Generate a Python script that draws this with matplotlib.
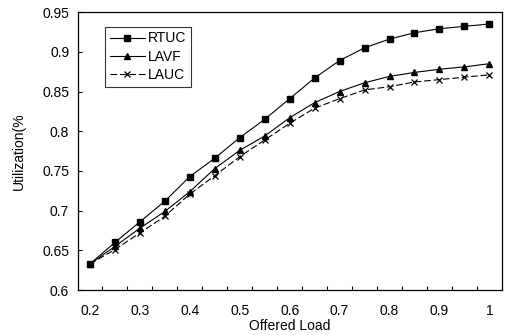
import numpy as np
import matplotlib
matplotlib.use("Agg")
import matplotlib.pyplot as plt

# Datos
carga = [0.2, 0.25, 0.3, 0.35, 0.4, 0.45, 0.5, 0.55, 0.6, 0.65, 0.7, 0.75, 0.8, 0.85, 0.9, 0.95, 1.0]
rtuc = [0.633, 0.660, 0.686, 0.712, 0.743, 0.766, 0.792, 0.815, 0.841, 0.867, 0.889, 0.905, 0.916, 0.924, 0.929, 0.932, 0.935]
lavf = [0.633, 0.655, 0.678, 0.699, 0.724, 0.753, 0.776, 0.794, 0.817, 0.836, 0.850, 0.861, 0.869, 0.874, 0.878, 0.881, 0.885]
lauc = [0.633, 0.651, 0.672, 0.693, 0.721, 0.744, 0.768, 0.789, 0.810, 0.829, 0.841, 0.852, 0.856, 0.862, 0.865, 0.868, 0.871]

plt.rcParams['font.family'] = ['Liberation Sans', 'DejaVu Sans']

fig = plt.figure(figsize=(5.1, 3.35), dpi=100)
ax = fig.add_axes([0.152, 0.134, 0.832, 0.830])

ax.plot(carga, rtuc, color='black', lw=0.8, marker='s', ms=4.5, label='RTUC')
ax.plot(carga, lavf, color='black', lw=0.8, marker='^', ms=4.5, label='LAVF')
ax.plot(carga, lauc, color='black', lw=0.8, ls=(0, (6, 2.5)), marker='x', ms=4, mew=0.9, label='LAUC')

ax.set_xlim(0.175, 1.025)
ax.set_ylim(0.6, 0.95)

ax.set_xticks([0.2, 0.3, 0.4, 0.5, 0.6, 0.7, 0.8, 0.9, 1.0])
ax.set_xticklabels(['0.2', '0.3', '0.4', '0.5', '0.6', '0.7', '0.8', '0.9', '1'])
ax.set_xticks(np.arange(0.225, 1.0, 0.05), minor=True)
ax.tick_params(axis='x', which='major', length=0, pad=10, labelsize=10)
ax.tick_params(axis='x', which='minor', direction='in', length=3, width=0.8)

yt = [0.6, 0.65, 0.7, 0.75, 0.8, 0.85, 0.9, 0.95]
ax.set_yticks(yt)
ax.set_yticklabels(['0.6', '0.65', '0.7', '0.75', '0.8', '0.85', '0.9', '0.95'])
ax.tick_params(axis='y', direction='in', length=3, width=0.8, pad=6, labelsize=10)

for s in ax.spines.values():
    s.set_linewidth(0.9)
    s.set_color('black')

ax.set_xlabel('Offered Load', fontsize=10, labelpad=1)
ax.set_ylabel('Utilization(%', fontsize=10, labelpad=12)

leg = ax.legend(loc='upper left', bbox_to_anchor=(0.065, 0.948), fontsize=10,
                frameon=True, fancybox=False, edgecolor='black', handlelength=2.5,
                handletextpad=0.25, borderpad=0.35, labelspacing=0.32, borderaxespad=0)
leg.get_frame().set_linewidth(0.8)

fig.savefig('out.png', dpi=100)
